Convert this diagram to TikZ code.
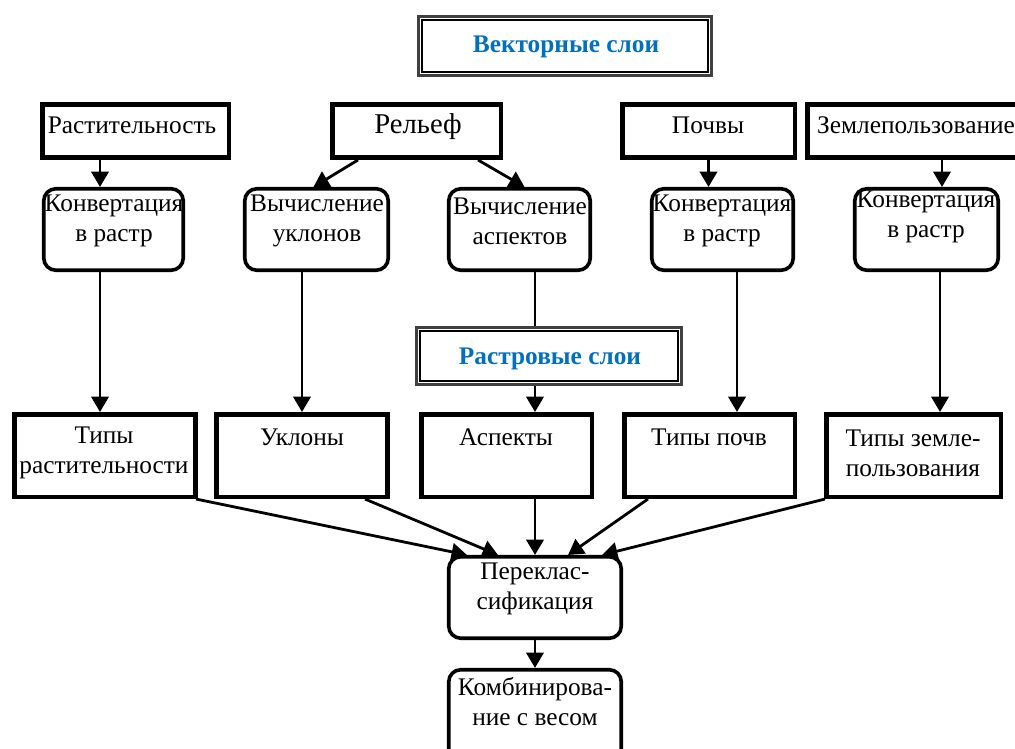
\documentclass[tikz,border=0pt]{standalone}
\usepackage{fontspec}
\setmainfont{Liberation Serif}
\usetikzlibrary{arrows.meta,calc}
\definecolor{ttl}{RGB}{0,112,192}
\begin{document}
\begin{tikzpicture}[x=0.75pt,y=-0.75pt,
  sbox/.style={draw, line width=3.4pt, inner sep=0pt},
  obox/.style={draw, line width=2.7pt, rounded corners=9pt, inner sep=0pt, minimum height=61.1pt},
  tbox/.style={draw=black!75, line width=2pt, inner sep=0pt},
  txt/.style={font=\fontsize{19pt}{22.5pt}\selectfont, align=center, inner sep=0pt},
  bigtxt/.style={font=\fontsize{21.5pt}{24pt}\selectfont, inner sep=0pt},
  ttltxt/.style={font=\fontsize{19pt}{22pt}\selectfont\bfseries, text=ttl, inner sep=0pt},
  arr/.style={line width=2.1pt, -{Triangle[length=11.5pt,width=13pt]}},
  ln/.style={line width=2.1pt}]
\useasboundingbox (0,0) rectangle (1015,749);

% title boxes
\node[tbox, minimum width=220.1pt, minimum height=44.6pt] (vt) at (565,46) {};
\draw[line width=2.1pt] ($(vt.north west)+(5,5)$) rectangle ($(vt.south east)+(-5,-5)$);
\node[ttltxt] (vtt) at (566,47) {Векторные слои};

\node[tbox, minimum width=199.1pt, minimum height=43.1pt] (rs) at (549,356) {};
\draw[line width=2.1pt] ($(rs.north west)+(5,5)$) rectangle ($(rs.south east)+(-5,-5)$);
\node[ttltxt] (rst) at (550,359) {Растровые слои};

% top row
\node[sbox, minimum width=139.9pt, minimum height=40.1pt] (veg) at (135.5,131) {};
\node[sbox, minimum width=126.4pt, minimum height=40.1pt] (rel) at (416.5,131) {};
\node[sbox, minimum width=129.4pt, minimum height=40.1pt] (soil) at (708.5,131) {};
\node[sbox, minimum width=164.6pt, minimum height=40.1pt] (land) at (917,131) {};
\node[txt] (tveg) at (132,125) {Растительность};
\node[bigtxt] (trel) at (418,127) {Рельеф};
\node[txt] (tsoil) at (708,125) {Почвы};
\node[txt] (tland) at (916,125) {Землепользование};

% second row
\node[obox, minimum width=104.6pt] (k1) at (113.5,229.5) {};
\node[obox, minimum width=107.6pt] (su) at (316.5,229.5) {};
\node[obox, minimum width=106.1pt] (sa) at (519.5,229.5) {};
\node[obox, minimum width=106.1pt] (k2) at (722.5,229.5) {};
\node[obox, minimum width=107.6pt] (k3) at (926.5,229.5) {};
\node[txt] (tk1) at (114,221) {Конвертация\\в растр};
\node[txt] (tsu) at (317,221) {Вычисление\\уклонов};
\node[txt] (tsa) at (520,221) {Вычисление\\аспектов};
\node[txt] (tk2) at (722,221) {Конвертация\\в растр};
\node[txt] (tk3) at (926,217) {Конвертация\\в растр};

% third row
\node[sbox, minimum width=136.1pt, minimum height=61.9pt] (tv) at (105,455.5) {};
\node[sbox, minimum width=128.6pt, minimum height=61.9pt] (tu) at (302,455.5) {};
\node[sbox, minimum width=127.9pt, minimum height=61.9pt] (ta) at (506.5,455.5) {};
\node[sbox, minimum width=127.9pt, minimum height=61.9pt] (tp) at (709.5,455.5) {};
\node[sbox, minimum width=130.9pt, minimum height=61.9pt] (tz) at (913.5,455.5) {};
\node[txt] (ttv) at (104,453) {Типы\\растительности};
\node[txt] (ttu) at (302,437) {Уклоны};
\node[txt] (tta) at (506,437) {Аспекты};
\node[txt] (ttp) at (709,437) {Типы почв};
\node[txt] (ttz) at (913,453) {Типы земле-\\пользования};

% bottom
\node[obox, minimum width=129.4pt] (recl) at (535,597.5) {};
\node[obox, minimum width=129.4pt, minimum height=72.4pt] (komb) at (535,718) {};
\node[txt] (trecl) at (535,588.5) {Переклас-\\сификация};
\node[txt] (tkomb) at (535,702) {Комбинирова-\\ние с весом};

% helper x positions
\coordinate (x1) at (100,0);
\coordinate (x2) at (737,0);
\coordinate (x3) at (942,0);
\coordinate (x4) at (940,0);
\coordinate (xm) at (535,0);

% connectors
\draw[arr] (veg.south -| x1) -- (k1.north -| x1);
\draw[arr] ($(rel.south west)+(28,0)$) -- ($(su.north)+(-3,0)$);
\draw[arr] ($(rel.south east)+(-25,0)$) -- ($(sa.north)+(5,0)$);
\draw[arr] (soil.south) -- (k2.north -| soil.south);
\draw[arr] (land.south -| x3) -- (k3.north -| x3);

\draw[arr] (k1.south -| x1) -- (tv.north -| x1);
\draw[arr] (su.south -| tu.north) -- (tu.north);
\draw[ln] (sa.south -| xm) -- (rs.north -| xm);
\draw[arr] (rs.south -| xm) -- (ta.north -| xm);
\draw[arr] (k2.south -| x2) -- (tp.north -| x2);
\draw[arr] (k3.south -| x4) -- (tz.north -| x4);

\draw[arr] ($(tv.south east)+(-2,0)$) -- ($(recl.north west)+(20,0)$);
\draw[arr] ($(tu.south east)+(-25,0)$) -- ($(recl.north west)+(51,0)$);
\draw[arr] (ta.south -| recl.north) -- (recl.north);
\draw[arr] ($(tp.south west)+(26,0)$) -- ($(recl.north east)+(-55,0)$);
\draw[arr] ($(tz.south west)+(1,0)$) -- ($(recl.north east)+(-21,0)$);
\draw[arr] (recl.south) -- (komb.north);
\end{tikzpicture}
\end{document}
